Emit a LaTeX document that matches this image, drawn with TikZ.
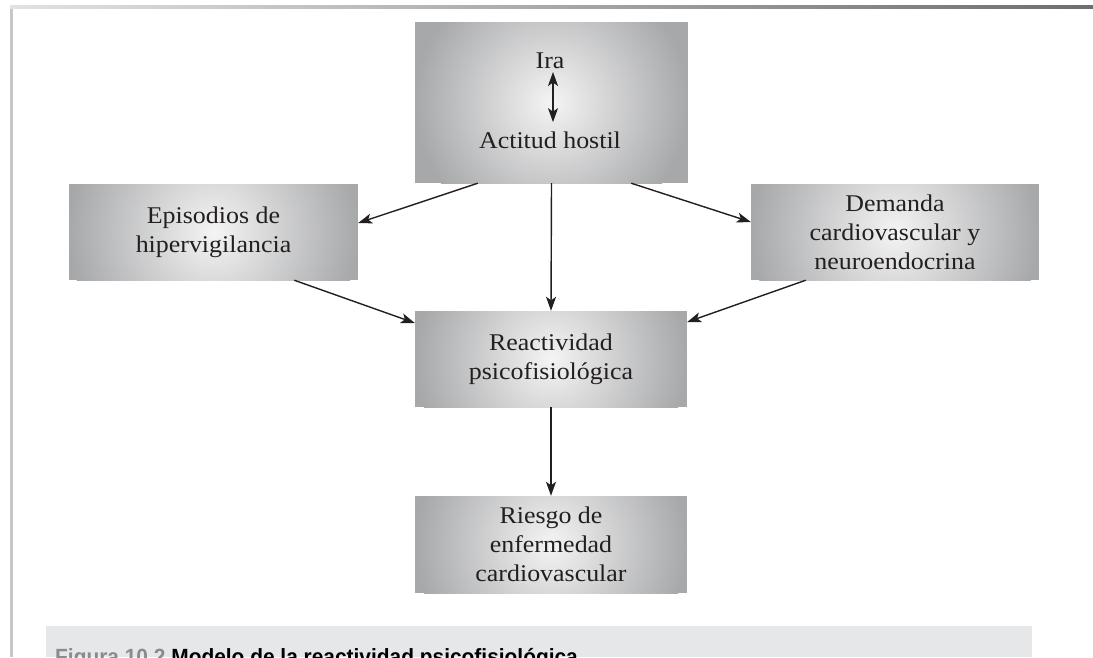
\documentclass[tikz,border=0pt]{standalone}
\usepackage{fontspec}
\setmainfont[FakeStretch=1.08]{Liberation Serif}
\newfontfamily\capfont[FakeStretch=0.95]{Liberation Sans}
\usetikzlibrary{arrows.meta,calc}
\definecolor{boxin}{HTML}{F4F4F4}
\definecolor{boxout}{HTML}{A7A8AA}
\definecolor{txt}{HTML}{231F20}
\definecolor{capbg}{HTML}{E6E7E8}
\definecolor{capgray}{HTML}{8A8B8D}
\definecolor{lineleft}{HTML}{C8C8C8}
\definecolor{topl}{HTML}{E2E2E2}
\definecolor{topr}{HTML}{6D6E70}
\begin{document}
\begin{tikzpicture}[x=1pt,y=-1pt,
  box/.style={draw=none, inner sep=0pt, align=center, text=txt,
    font=\fontsize{24}{29}\selectfont,
    path picture={
      \fill[boxout] (path picture bounding box.south west) rectangle (path picture bounding box.north east);
      \shade[inner color=boxin, outer color=boxout] (path picture bounding box.center) circle[radius=#1];
    }},
  lbl/.style={inner sep=0pt, text=txt, font=\fontsize{24}{29}\selectfont},
  arr/.style={line width=1.4pt, draw=txt, -{Stealth[length=14pt,width=10pt,inset=3.5pt]}},
  darr/.style={line width=1.4pt, draw=txt, {Stealth[length=14pt,width=10pt,inset=3.5pt]}-{Stealth[length=14pt,width=10pt,inset=3.5pt]}}]
\useasboundingbox (0,0) rectangle (1093,657);
% frame
\fill[lineleft] (10,8) rectangle (12.5,657);
\shade[left color=topl, right color=topr] (10,5.8) rectangle (1093,8.6);
% caption
\fill[capbg] (46,626) rectangle (1032,657);
\node[anchor=base west, inner sep=0pt, font=\capfont\bfseries\fontsize{22}{22}\selectfont, text=black] (cap) at (55,664)
  {\textcolor{capgray}{Figura 10.2} Modelo de la reactividad psicofisiológica};
% boxes
\node[box=137, minimum width=273pt, minimum height=161pt] (top) at (551.5,102.5) {};
\node[lbl, anchor=base] (ira) at (550,68) {Ira};
\node[lbl, anchor=base] (act) at (550,148) {Actitud hostil};
\node[box=145, minimum width=289pt, minimum height=96pt] (left) at (213.5,232) {Episodios de\\hipervigilancia};
\node[box=144, minimum width=288pt, minimum height=96pt] (right) at (895,232) {Demanda\\cardiovascular y\\neuroendocrina};
\node[box=136, minimum width=272pt, minimum height=96pt] (mid) at (551,359) {Reactividad\\psicofisiológica};
\node[box=136, minimum width=272pt, minimum height=97pt] (risk) at (551,544.5) {Riesgo de\\enfermedad\\cardiovascular};
% connectors
\draw[darr] ($(ira.base)+(3,4)$) -- ($(act.north)+(3,-9)$);
\draw[arr] ($(top.south west)+(63,0)$) -- ($(left.east)+(0,-9)$);
\draw[arr] (top.south) -- (mid.north);
\draw[arr] ($(top.south east)+(-57,0)$) -- ($(right.west)+(0,-10)$);
\draw[arr] ($(left.south east)+(-64,0)$) -- ($(mid.west)+(0,-36)$);
\draw[arr] ($(right.south west)+(55,0)$) -- ($(mid.east)+(0,-37)$);
\draw[arr] (mid.south) -- (risk.north);
\end{tikzpicture}
\end{document}
